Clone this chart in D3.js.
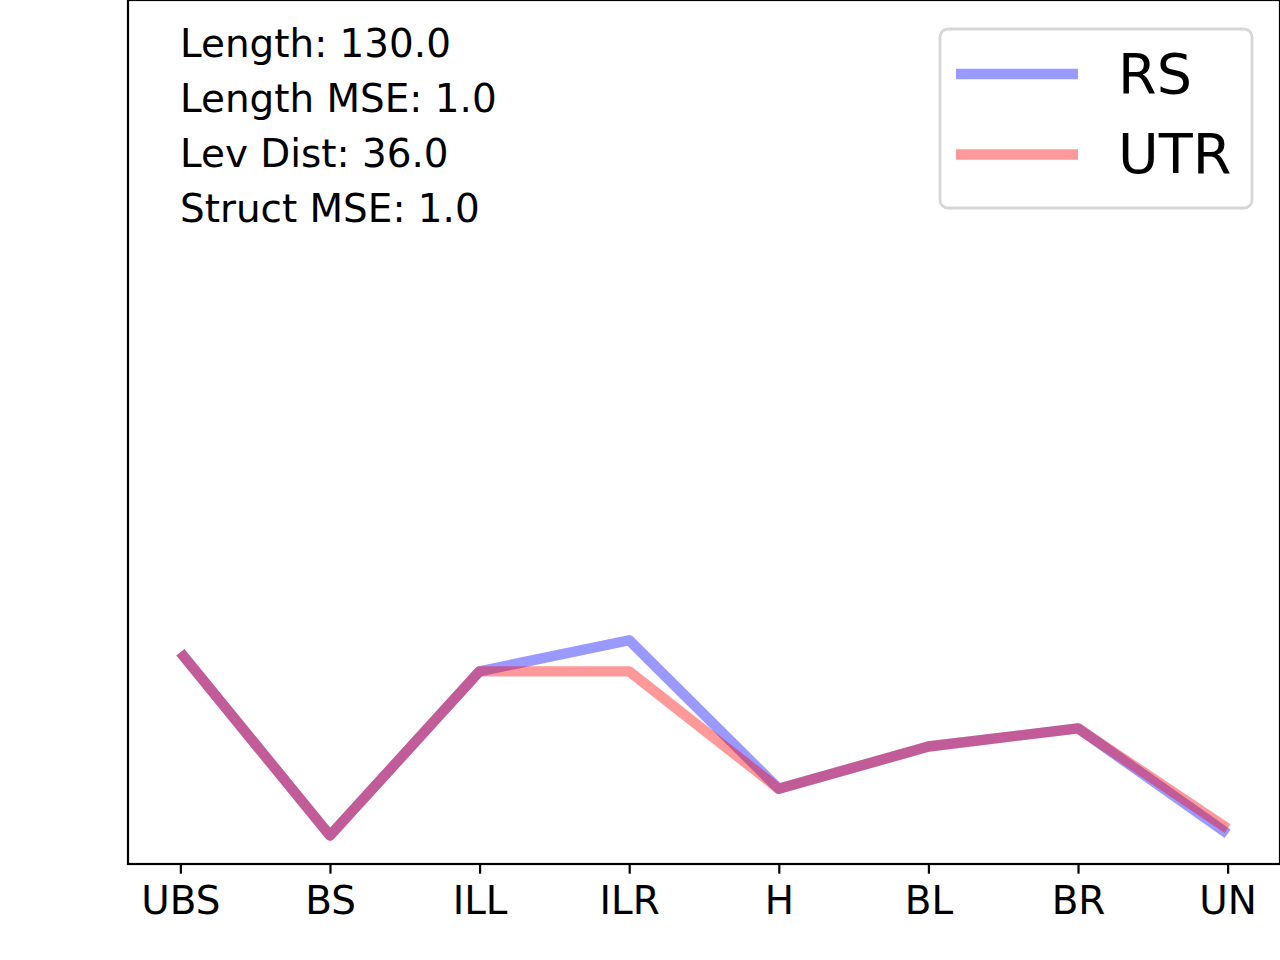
<!DOCTYPE html>
<html>
<head>
<meta charset="utf-8">
<script src="https://cdn.jsdelivr.net/npm/d3@7"></script>
<style>
  body { margin: 0; background: #fff; }
  svg { display: block; font-family: "DejaVu Sans", sans-serif; }
</style>
</head>
<body>
<svg class="chart" width="1280" height="960"></svg>
<script>
// categories along x, one value per category for each series
const categories = ["UBS", "BS", "ILL", "ILR", "H", "BL", "BR", "UN"]
const rsValues  = [0.245, 0.033, 0.223, 0.259, 0.087, 0.136, 0.157, 0.035]
const utrValues = [0.245, 0.033, 0.223, 0.223, 0.087, 0.136, 0.157, 0.041]
const seriesNames = ["RS", "UTR"]
const seriesColors = ["blue", "red"]
const statsLines = ["Length: 130.0", "Length MSE: 1.0", "Lev Dist: 36.0", "Struct MSE: 1.0"]

const margin = {left: 128, right: 0, top: 0, bottom: 96}
const width = 1280 - margin.left - margin.right
const height = 960 - margin.top - margin.bottom

let svg = d3.select('.chart')
let chart = svg.append("g")
        .attr("transform", `translate(${margin.left},${margin.top})`)

let x = d3.scalePoint()
        .domain(categories)
        .range([0, width])
        .padding(0.35)

let y = d3.scaleLinear()
        .domain([0, 1])
        .range([height, 0])

// frame
chart.append("rect")
    .attr("x", 0).attr("y", 0)
    .attr("width", width).attr("height", height)
    .attr("fill", "none")
    .attr("stroke", "black")
    .attr("stroke-width", 2.2)

let xAxis = chart.append("g")
        .attr("transform", `translate(0,${height})`)
        .call(d3.axisBottom(x).tickSize(9.7).tickSizeOuter(0))
xAxis.select(".domain").remove()
xAxis.selectAll(".tick line").attr("stroke", "black").attr("stroke-width", 2.2)
xAxis.selectAll(".tick text")
    .attr("y", 50)
    .attr("dy", null)
    .attr("fill", "black")
    .style("font-size", "38.9px")
    .style("font-family", "DejaVu Sans")

let line = d3.line()
        .x(function(d, i){ return x(categories[i]) })
        .y(function(d){ return y(d) })

let series = [rsValues, utrValues]
series.forEach(function(vals, i){
    chart.append("path")
        .datum(vals)
        .attr("d", line)
        .attr("fill", "none")
        .attr("stroke", seriesColors[i])
        .attr("stroke-opacity", 0.4)
        .attr("stroke-width", 10.4)
        .attr("stroke-linejoin", "round")
        .attr("stroke-linecap", "butt")
})

// stats text in the top left
svg.selectAll(".stat")
    .data(statsLines)
  .enter().append("text")
    .attr("class", "stat")
    .attr("x", 180)
    .attr("y", function(d, i){ return 57 + i * 55 })
    .style("font-size", "38.9px")
    .text(function(d){ return d })

// legend
let legend = svg.append("g")
legend.append("rect")
    .attr("x", 940).attr("y", 29)
    .attr("width", 312).attr("height", 179)
    .attr("rx", 8)
    .attr("fill", "white")
    .attr("fill-opacity", 0.8)
    .attr("stroke", "#d6d6d6")
    .attr("stroke-width", 2.8)

seriesNames.forEach(function(name, i){
    let ly = 74 + i * 80.5
    legend.append("line")
        .attr("x1", 956).attr("x2", 1078)
        .attr("y1", ly).attr("y2", ly)
        .attr("stroke", seriesColors[i])
        .attr("stroke-opacity", 0.4)
        .attr("stroke-width", 10.5)
    legend.append("text")
        .attr("x", 1118)
        .attr("y", ly + 18.5)
        .style("font-size", "55.6px")
        .text(name)
})
</script>
</body>
</html>
